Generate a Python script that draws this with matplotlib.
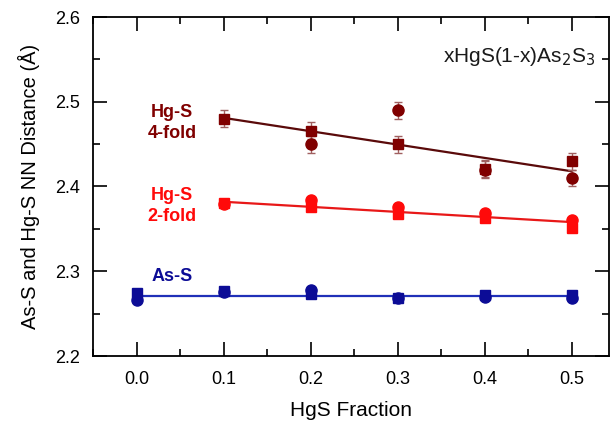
import matplotlib.pyplot as plt
from matplotlib.ticker import MultipleLocator

plt.rcParams["font.family"] = ["Liberation Sans", "DejaVu Sans"]

# As-S (x = 0 ... 0.5)
as_x = [0.0, 0.1, 0.2, 0.3, 0.4, 0.5]
as_sq = [2.274, 2.277, 2.273, 2.269, 2.272, 2.272]
as_ci = [2.266, 2.275, 2.278, 2.268, 2.270, 2.269]
as_fit_x = [0.0, 0.5]
as_fit_y = [2.271, 2.271]

# Hg-S 2-fold
hg2_x = [0.1, 0.2, 0.3, 0.4, 0.5]
hg2_sq = [2.380, 2.376, 2.368, 2.363, 2.351]
hg2_ci = [2.379, 2.384, 2.376, 2.369, 2.360]
hg2_fit_x = [0.1, 0.5]
hg2_fit_y = [2.382, 2.358]

# Hg-S 4-fold
hg4_sq_x = [0.1, 0.2, 0.3, 0.4, 0.5]
hg4_sq = [2.480, 2.466, 2.450, 2.421, 2.430]
hg4_ci_x = [0.2, 0.3, 0.4, 0.5]
hg4_ci = [2.450, 2.490, 2.420, 2.410]
hg4_err = 0.01
hg4_fit_x = [0.1, 0.5]
hg4_fit_y = [2.481, 2.418]

dark_red = "#800000"
red = "#ff0a0a"
blue = "#0c0c96"

fig = plt.figure(figsize=(6.16, 4.23), dpi=100)
ax = fig.add_axes([93 / 616, 1 - 356 / 423, (609 - 93) / 616, (356 - 17) / 423])

# fitted lines
ax.plot(as_fit_x, as_fit_y, color="#2030b8", lw=1.6, zorder=2)
ax.plot(hg2_fit_x, hg2_fit_y, color="#e81818", lw=1.6, zorder=2)
ax.plot(hg4_fit_x, hg4_fit_y, color="#5a0a0a", lw=1.6, zorder=2)

# As-S
ax.plot(as_x, as_sq, "s", color=blue, ms=7, zorder=3)
ax.plot(as_x, as_ci, "o", color=blue, ms=8, zorder=3)

# Hg-S 2-fold
ax.plot(hg2_x, hg2_sq, "s", color=red, ms=7, zorder=3)
ax.plot(hg2_x, hg2_ci, "o", color=red, ms=8, zorder=3)

# Hg-S 4-fold with error bars
ax.errorbar(hg4_sq_x, hg4_sq, yerr=hg4_err, fmt="s", color=dark_red, ms=7,
            ecolor="#a06060", elinewidth=1, capsize=3, capthick=1, zorder=3)
ax.errorbar(hg4_ci_x, hg4_ci, yerr=hg4_err, fmt="o", color=dark_red, ms=8,
            ecolor="#a06060", elinewidth=1, capsize=3, capthick=1, zorder=3)

ax.set_xlim(-0.05, 0.543)
ax.set_ylim(2.2, 2.6)
ax.xaxis.set_major_locator(MultipleLocator(0.1))
ax.xaxis.set_minor_locator(MultipleLocator(0.05))
ax.yaxis.set_major_locator(MultipleLocator(0.1))
ax.yaxis.set_minor_locator(MultipleLocator(0.05))
ax.xaxis.set_major_formatter(plt.FormatStrFormatter("%.1f"))
ax.yaxis.set_major_formatter(plt.FormatStrFormatter("%.1f"))
ax.tick_params(which="both", direction="in", top=True, right=True,
               labelsize=13, width=1.2)
ax.tick_params(axis="x", pad=11)
ax.tick_params(axis="y", pad=9)
ax.tick_params(which="major", length=10)
ax.tick_params(which="minor", length=5)
for sp in ax.spines.values():
    sp.set_linewidth(1.3)

ax.set_xlabel("HgS Fraction", fontsize=15, labelpad=9)
ax.set_ylabel("As-S and Hg-S NN Distance (Å)", fontsize=14.5, labelpad=11)

ax.text(0.041, 2.497, "Hg-S\n4-fold", color=dark_red, fontsize=13, fontweight="bold",
        ha="center", va="top", linespacing=1.3)
ax.text(0.041, 2.399, "Hg-S\n2-fold", color=red, fontsize=13, fontweight="bold",
        ha="center", va="top", linespacing=1.3)
ax.text(0.041, 2.304, "As-S", color=blue, fontsize=13, fontweight="bold",
        ha="center", va="top")
ax.text(0.528, 2.567, "xHgS(1-x)As$_2$S$_3$", color="#1a1a1a", fontsize=15,
        ha="right", va="top")

fig.savefig("out.png", dpi=100)
